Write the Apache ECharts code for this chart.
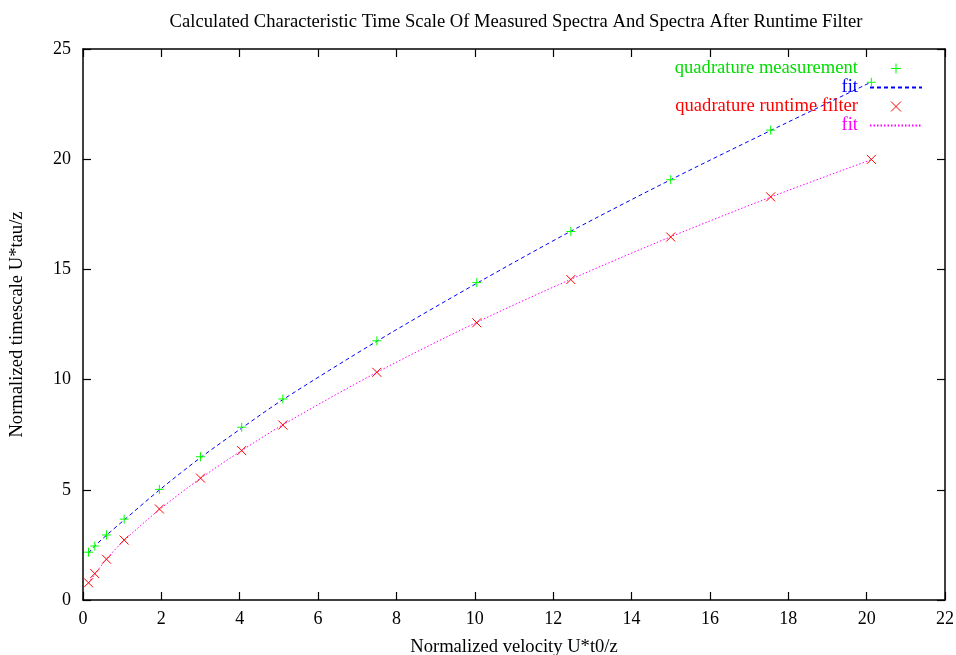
<!DOCTYPE html>
<html>
<head>
<meta charset="utf-8">
<script src="https://cdn.jsdelivr.net/npm/echarts@6/dist/echarts.min.js"></script>
<style>html,body{margin:0;padding:0;background:#fff;}#c{width:956px;height:655px;}</style>
</head>
<body>
<div id="c"></div>
<script>
// Data
var velocity = [0.14, 0.3, 0.6, 1.05, 1.95, 3.0, 4.05, 5.1, 7.5, 10.05, 12.45, 15.0, 17.55, 20.12];
var measurement = [2.17, 2.45, 2.95, 3.67, 5.02, 6.5, 7.84, 9.12, 11.76, 14.4, 16.72, 19.07, 21.32, 23.49];
var runtimeFilter = [0.78, 1.2, 1.85, 2.72, 4.13, 5.53, 6.78, 7.94, 10.33, 12.58, 14.54, 16.47, 18.29, 19.99];
var fitMeasurement = [2.13, 2.45, 2.94, 3.63, 4.99, 6.46, 7.8, 9.09, 11.74, 14.37, 16.73, 19.07, 21.3, 23.5];
var fitRuntime = [0.78, 1.16, 1.86, 2.7, 4.1, 5.52, 6.78, 7.95, 10.33, 12.6, 14.55, 16.48, 18.28, 19.98];
var xTicks = {min: 0, max: 22, interval: 2};
var yTicks = {min: 0, max: 25, interval: 5};

function pairs(xs, ys) { return xs.map(function (x, i) { return [x, ys[i]]; }); }

var FONT = '"Liberation Serif", "DejaVu Serif", serif';
var PLUS = 'path://M0,5L10,5M5,0L5,10';
var CROSS = 'path://M0,0L10,10M10,0L0,10';
var TXT = 18.6;
var TICK = 18;

var chart = echarts.init(document.getElementById('c'), null, {renderer: 'canvas'});
var axisCommon = {
  axisLine: {show: true, onZero: false, lineStyle: {color: '#000', width: 1.5}},
  axisTick: {show: true, inside: true, length: 8, lineStyle: {color: '#000', width: 1.2}},
  splitLine: {show: false}
};
chart.setOption({
  animation: false,
  backgroundColor: '#fff',
  title: {
    text: 'Calculated Characteristic Time Scale Of Measured Spectra And Spectra After Runtime Filter',
    left: 511, top: 8, textAlign: 'center',
    textStyle: {fontFamily: FONT, fontSize: TXT, fontWeight: 'normal', color: '#000'}
  },
  grid: {left: 83, right: 11, top: 49, bottom: 55, containLabel: false, outerBoundsMode: 'none'},
  legend: {
    orient: 'vertical', right: 28, top: 54, align: 'right',
    itemWidth: 52, itemHeight: 10, itemGap: 0,
    textStyle: {fontFamily: FONT, fontSize: TXT, lineHeight: 19, padding: [0, 7, 0, 0]},
    formatter: function (n) { return n.trim(); },
    data: [
      {name: 'quadrature measurement', textStyle: {color: '#00dd00'}, itemStyle: {borderWidth: 1}},
      {name: 'fit', textStyle: {color: '#0000ff'}, itemStyle: {opacity: 0}},
      {name: 'quadrature runtime filter', textStyle: {color: '#ff0000'}, itemStyle: {borderWidth: 1}},
      {name: 'fit ', textStyle: {color: '#ff00ff'}, itemStyle: {opacity: 0}}
    ]
  },
  xAxis: [
    Object.assign({type: 'value', position: 'bottom', min: xTicks.min, max: xTicks.max, interval: xTicks.interval,
      name: 'Normalized velocity U*t0/z', nameLocation: 'middle', nameGap: 38,
      nameTextStyle: {fontFamily: FONT, fontSize: TXT, color: '#000'},
      axisLabel: {fontFamily: FONT, fontSize: TICK, color: '#000', margin: 10}}, axisCommon),
    Object.assign({type: 'value', position: 'top', min: xTicks.min, max: xTicks.max, interval: xTicks.interval,
      axisLabel: {show: false}}, axisCommon)
  ],
  yAxis: [
    Object.assign({type: 'value', position: 'left', min: yTicks.min, max: yTicks.max, interval: yTicks.interval,
      name: 'Normalized timescale U*tau/z', nameLocation: 'middle', nameGap: 56,
      nameTextStyle: {fontFamily: FONT, fontSize: TXT, color: '#000'},
      axisLabel: {fontFamily: FONT, fontSize: TICK, color: '#000', margin: 12}}, axisCommon),
    Object.assign({type: 'value', position: 'right', min: yTicks.min, max: yTicks.max, interval: yTicks.interval,
      axisLabel: {show: false}}, axisCommon)
  ],
  series: [
    {
      name: 'quadrature measurement', type: 'scatter', data: pairs(velocity, measurement),
      symbol: PLUS, symbolSize: 9, z: 5,
      itemStyle: {color: 'rgba(0,0,0,0)', borderColor: '#00ff00', borderWidth: 1, opacity: 1}
    },
    {
      name: 'fit', type: 'line', data: pairs(velocity, fitMeasurement), smooth: 0.3,
      showSymbol: false, symbol: 'none', z: 3, color: '#0000ff',
      lineStyle: {color: '#0000ff', width: 1, type: [4, 3]}
    },
    {
      name: 'quadrature runtime filter', type: 'scatter', data: pairs(velocity, runtimeFilter),
      symbol: CROSS, symbolSize: 9, z: 5,
      itemStyle: {color: 'rgba(0,0,0,0)', borderColor: '#ff0000', borderWidth: 1, opacity: 1}
    },
    {
      name: 'fit ', type: 'line', data: pairs(velocity, fitRuntime), smooth: 0.3,
      showSymbol: false, symbol: 'none', z: 3, color: '#ff00ff',
      lineStyle: {color: '#ff00ff', width: 1, type: [1.5, 2]}
    }
  ]
});
</script>
</body>
</html>
